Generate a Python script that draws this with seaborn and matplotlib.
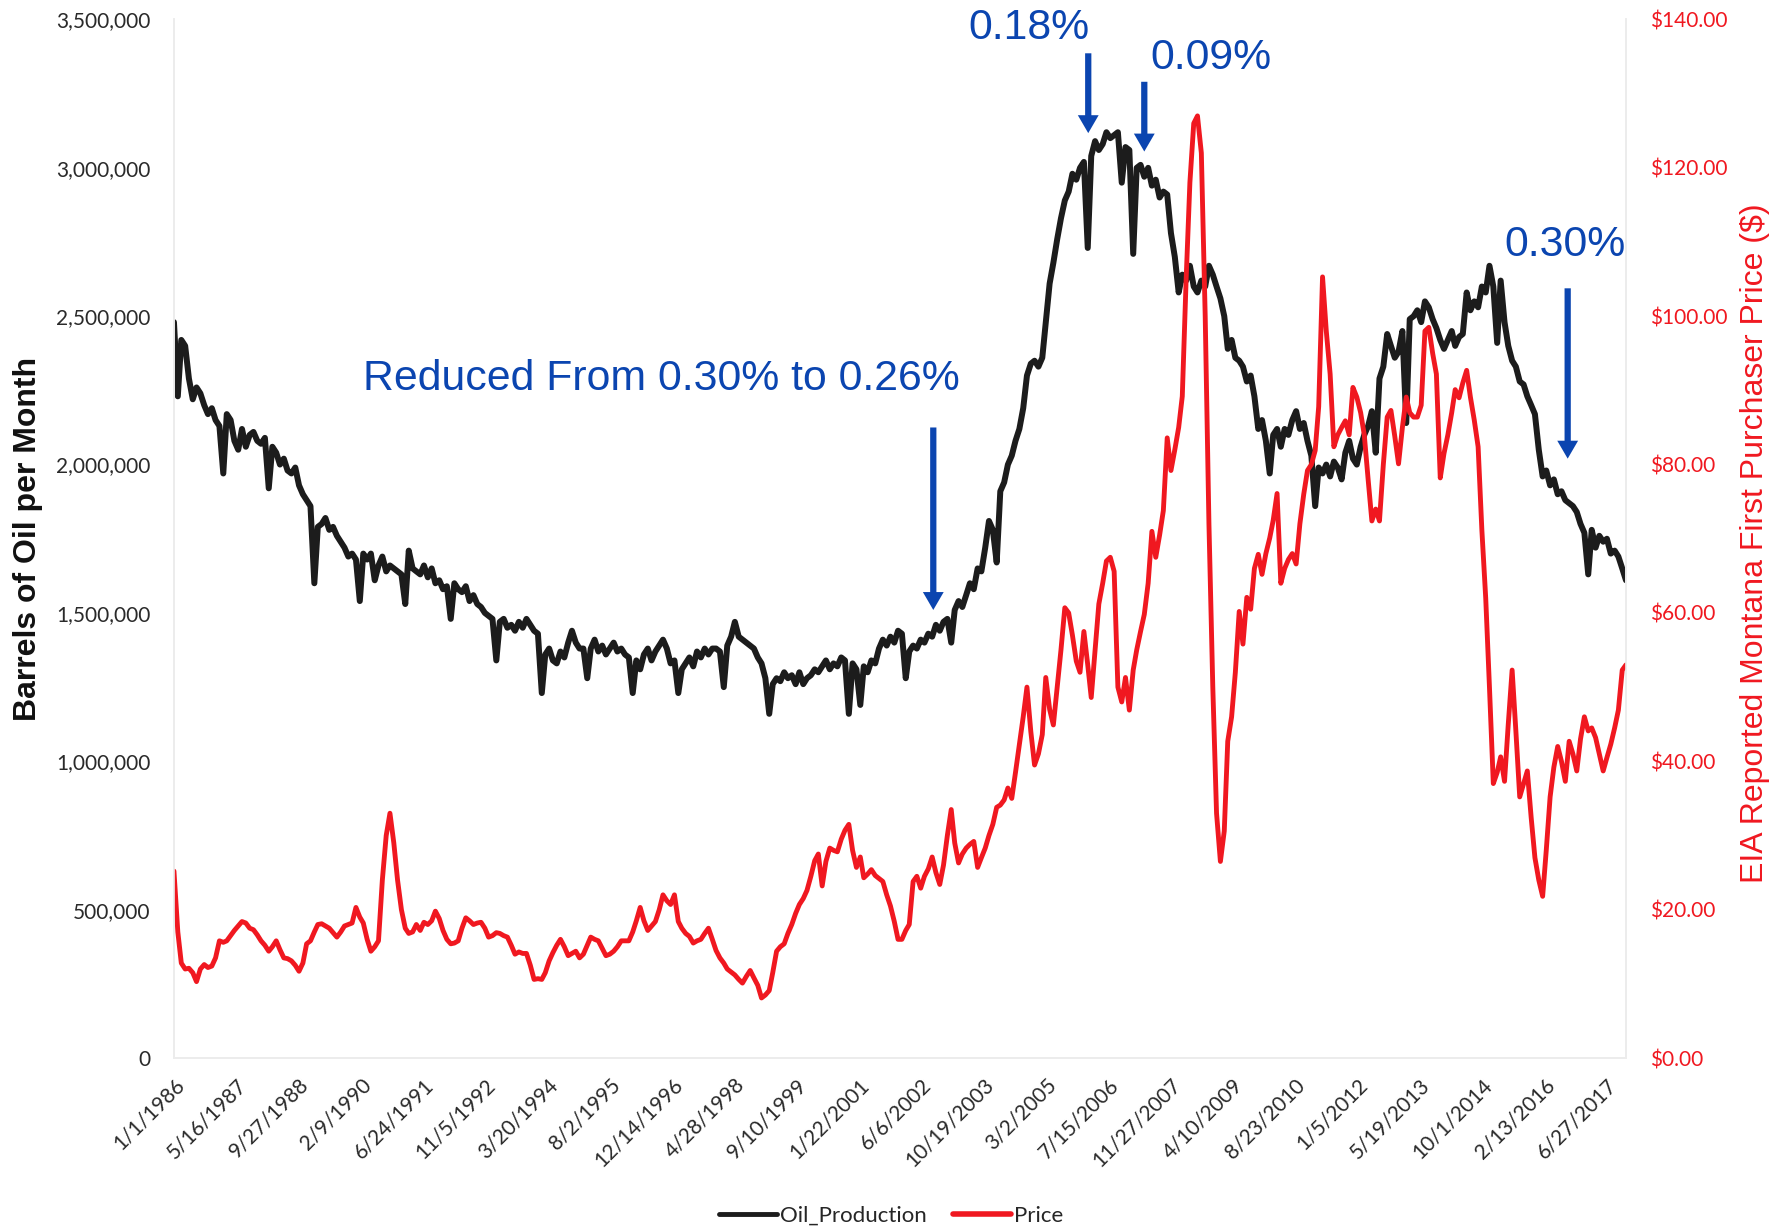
import matplotlib
matplotlib.use('Agg')
import matplotlib.pyplot as plt
import matplotlib.ticker as mticker
from matplotlib.lines import Line2D
import seaborn as sns
import pandas as pd
import numpy as np

# Monthly Montana oil production (thousand barrels), one row per year 1986..2017
production_k = [
    [2480, 2230, 2420, 2400, 2290, 2220, 2260, 2240, 2200, 2170, 2190, 2150],
    [2130, 1970, 2170, 2150, 2080, 2050, 2120, 2060, 2100, 2110, 2080, 2070],
    [2090, 1920, 2060, 2040, 2000, 2020, 1980, 1970, 1990, 1930, 1900, 1880],
    [1860, 1600, 1790, 1800, 1820, 1780, 1790, 1760, 1740, 1720, 1690, 1700],
    [1680, 1540, 1700, 1680, 1700, 1610, 1660, 1690, 1640, 1660, 1650, 1640],
    [1630, 1530, 1710, 1650, 1640, 1630, 1660, 1620, 1650, 1600, 1610, 1580],
    [1590, 1480, 1600, 1580, 1570, 1590, 1540, 1560, 1530, 1520, 1500, 1490],
    [1480, 1340, 1470, 1480, 1450, 1460, 1440, 1470, 1450, 1480, 1460, 1440],
    [1430, 1230, 1360, 1380, 1340, 1330, 1370, 1350, 1400, 1440, 1400, 1380],
    [1380, 1280, 1380, 1410, 1370, 1390, 1360, 1380, 1400, 1370, 1380, 1360],
    [1350, 1230, 1340, 1310, 1360, 1380, 1340, 1370, 1390, 1410, 1380, 1330],
    [1340, 1230, 1310, 1330, 1350, 1320, 1370, 1350, 1380, 1360, 1380, 1380],
    [1370, 1250, 1390, 1420, 1470, 1420, 1410, 1400, 1390, 1380, 1350, 1330],
    [1280, 1160, 1260, 1280, 1270, 1300, 1280, 1290, 1260, 1300, 1260, 1280],
    [1290, 1310, 1300, 1320, 1340, 1310, 1330, 1320, 1350, 1340, 1160, 1330],
    [1310, 1190, 1320, 1300, 1340, 1330, 1380, 1410, 1390, 1420, 1400, 1440],
    [1430, 1280, 1370, 1390, 1380, 1410, 1400, 1430, 1420, 1460, 1440, 1470],
    [1480, 1400, 1510, 1540, 1520, 1560, 1600, 1580, 1650, 1640, 1720, 1810],
    [1780, 1670, 1910, 1940, 2000, 2030, 2080, 2120, 2190, 2300, 2340, 2350],
    [2330, 2360, 2480, 2610, 2680, 2760, 2830, 2890, 2920, 2980, 2960, 3000],
    [3020, 2730, 3040, 3090, 3060, 3080, 3120, 3100, 3110, 3120, 2950, 3070],
    [3060, 2710, 3000, 3010, 2970, 3000, 2940, 2960, 2900, 2920, 2910, 2780],
    [2700, 2580, 2640, 2620, 2670, 2600, 2580, 2620, 2600, 2670, 2640, 2600],
    [2560, 2500, 2390, 2420, 2360, 2350, 2330, 2280, 2300, 2230, 2120, 2150],
    [2080, 1970, 2100, 2120, 2060, 2120, 2100, 2150, 2180, 2120, 2140, 2080],
    [2030, 1860, 1990, 1970, 2000, 1960, 2010, 1990, 1950, 2040, 2080, 2020],
    [2000, 2060, 2100, 2130, 2180, 2040, 2290, 2330, 2440, 2400, 2360, 2380],
    [2450, 2140, 2490, 2500, 2520, 2480, 2550, 2530, 2490, 2460, 2420, 2390],
    [2420, 2450, 2400, 2430, 2440, 2580, 2520, 2550, 2530, 2600, 2580, 2670],
    [2600, 2410, 2620, 2480, 2400, 2350, 2330, 2280, 2270, 2230, 2200, 2170],
    [2050, 1960, 1980, 1930, 1950, 1900, 1910, 1880, 1870, 1860, 1840, 1800],
    [1770, 1630, 1780, 1720, 1760, 1740, 1750, 1700, 1710, 1690, 1650, 1610],
]

# Monthly first purchaser price ($/bbl), one row per year 1986..2017
price_usd = [
    [25.2, 17.0, 12.8, 12.0, 12.1, 11.5, 10.3, 12.0, 12.6, 12.2, 12.4, 13.5],
    [15.8, 15.6, 15.8, 16.5, 17.2, 17.8, 18.4, 18.2, 17.5, 17.3, 16.6, 15.8],
    [15.2, 14.4, 15.0, 15.8, 14.6, 13.5, 13.4, 13.1, 12.5, 11.7, 12.8, 15.4],
    [15.8, 17.0, 18.0, 18.1, 17.8, 17.5, 16.9, 16.3, 17.0, 17.8, 18.0, 18.2],
    [20.3, 19.0, 18.2, 16.0, 14.4, 15.0, 15.8, 24.0, 30.0, 33.0, 29.0, 24.0],
    [20.0, 17.5, 16.8, 17.0, 18.0, 17.2, 18.3, 18.0, 18.5, 19.8, 18.8, 17.2],
    [16.0, 15.4, 15.5, 15.8, 17.5, 18.9, 18.5, 18.0, 18.2, 18.3, 17.5, 16.3],
    [16.5, 16.9, 16.8, 16.5, 16.3, 15.2, 14.0, 14.3, 14.1, 14.1, 12.5, 10.6],
    [10.7, 10.6, 11.5, 13.1, 14.2, 15.2, 16.0, 15.0, 13.8, 14.1, 14.4, 13.5],
    [14.0, 15.2, 16.3, 16.0, 15.8, 14.8, 13.8, 14.0, 14.4, 15.0, 15.8, 15.8],
    [15.8, 17.0, 18.5, 20.3, 18.5, 17.2, 17.8, 18.4, 20.0, 22.0, 21.2, 20.7],
    [22.0, 18.4, 17.5, 16.8, 16.4, 15.5, 15.8, 16.0, 16.8, 17.5, 16.0, 14.5],
    [13.5, 12.8, 12.0, 11.6, 11.2, 10.6, 10.1, 11.0, 11.8, 10.8, 9.8, 8.1],
    [8.5, 9.1, 11.5, 14.4, 15.0, 15.4, 16.8, 18.0, 19.5, 20.7, 21.5, 22.6],
    [24.5, 26.6, 27.5, 23.2, 26.5, 28.3, 28.0, 27.8, 29.5, 30.7, 31.5, 28.0],
    [25.7, 27.1, 24.3, 24.8, 25.4, 24.6, 24.2, 23.8, 22.0, 20.5, 18.4, 16.0],
    [16.0, 17.2, 18.0, 23.8, 24.5, 22.9, 24.5, 25.5, 27.1, 25.0, 23.4, 26.0],
    [30.0, 33.5, 29.0, 26.3, 27.5, 28.3, 28.8, 29.2, 25.7, 27.0, 28.3, 30.0],
    [31.5, 33.8, 34.1, 34.8, 36.4, 35.0, 38.5, 42.3, 46.0, 50.0, 44.0, 39.5],
    [41.0, 43.6, 51.3, 47.0, 44.9, 50.0, 55.0, 60.7, 60.0, 57.0, 53.5, 52.0],
    [57.5, 53.0, 48.6, 55.0, 61.2, 64.0, 67.0, 67.5, 65.6, 50.0, 48.0, 51.3],
    [46.9, 52.3, 55.0, 57.5, 59.8, 64.0, 71.0, 67.5, 70.5, 73.8, 83.6, 79.2],
    [82.0, 85.0, 89.2, 105.0, 118.0, 126.0, 127.0, 122.0, 100.0, 72.0, 50.0, 33.0],
    [26.5, 30.6, 42.7, 46.0, 52.0, 60.2, 55.8, 62.1, 60.5, 66.0, 67.9, 65.2],
    [68.0, 70.1, 72.5, 76.1, 64.0, 66.0, 67.2, 68.0, 66.6, 72.0, 76.0, 79.2],
    [80.0, 81.9, 87.8, 105.3, 98.0, 92.2, 82.4, 84.0, 85.0, 85.9, 84.0, 90.4],
    [89.1, 87.0, 84.0, 78.0, 72.4, 74.0, 72.4, 80.0, 86.4, 87.3, 83.8, 80.1],
    [85.0, 89.1, 87.0, 86.4, 86.4, 88.0, 98.0, 98.5, 95.0, 92.2, 78.2, 81.5],
    [84.0, 87.0, 90.1, 89.0, 91.0, 92.7, 89.1, 86.0, 82.4, 71.2, 62.0, 50.0],
    [37.0, 38.5, 40.6, 37.3, 45.0, 52.3, 44.1, 35.2, 37.0, 38.7, 32.4, 27.0],
    [24.0, 21.8, 28.0, 35.2, 39.2, 42.0, 40.0, 37.3, 42.7, 41.0, 38.7, 43.0],
    [46.0, 44.1, 44.5, 43.2, 41.0, 38.7, 40.5, 42.3, 44.5, 46.9, 52.3, 53.0],
]

tick_labels = ['1/1/1986', '5/16/1987', '9/27/1988', '2/9/1990', '6/24/1991',
               '11/5/1992', '3/20/1994', '8/2/1995', '12/14/1996', '4/28/1998',
               '9/10/1999', '1/22/2001', '6/6/2002', '10/19/2003', '3/2/2005',
               '7/15/2006', '11/27/2007', '4/10/2009', '8/23/2010', '1/5/2012',
               '5/19/2013', '10/1/2014', '2/13/2016', '6/27/2017']

BLACK = '#1c1c1c'
RED = '#f01820'
BLUE = '#0b45b0'
TICK_FONT = ['Lato', 'DejaVu Sans']
ARIAL = ['Liberation Sans', 'DejaVu Sans']

months = pd.date_range('1986-01-01', periods=12 * len(production_k), freq='MS')
df = pd.DataFrame({
    'date': months,
    'Oil_Production': np.concatenate(production_k) * 1000,
    'Price': np.concatenate(price_usd),
})

sns.set_style('white')
plt.rcParams['font.family'] = TICK_FONT

fig = plt.figure(figsize=(17.86, 12.32), dpi=100)
ax = fig.add_axes([0.0974, 0.1412, 0.8130, 0.8430])
ax2 = ax.twinx()

sns.lineplot(data=df, x='date', y='Oil_Production', ax=ax, color=BLACK, lw=4.3,
             legend=False, solid_joinstyle='round')
sns.lineplot(data=df, x='date', y='Price', ax=ax2, color=RED, lw=3.5,
             legend=False, solid_joinstyle='round')

ax.set_xlim(months[0], months[-1])
ax.set_ylim(0, 3500000)
ax2.set_ylim(0, 140)
ax.yaxis.set_major_locator(mticker.MultipleLocator(500000))
ax2.yaxis.set_major_locator(mticker.MultipleLocator(20))
ax.yaxis.set_major_formatter(mticker.FuncFormatter(lambda v, p: f'{v:,.0f}'))
ax2.yaxis.set_major_formatter(mticker.FuncFormatter(lambda v, p: f'${v:,.2f}'))

tick_dates = pd.to_datetime(tick_labels, format='%m/%d/%Y')
ax.set_xticks(tick_dates)
ax.set_xticklabels(tick_labels, rotation=45, ha='right', rotation_mode='anchor')

ax.tick_params(axis='x', length=0, pad=12, labelsize=15, labelcolor='#2a2a2a')
ax.tick_params(axis='y', length=0, pad=17, labelsize=15, labelcolor='#2a2a2a')
ax2.tick_params(axis='y', length=0, pad=17, labelsize=15, labelcolor=RED)

for a in (ax, ax2):
    for side, sp in a.spines.items():
        sp.set_color('#ececec')
        sp.set_linewidth(1.2)
        sp.set_visible(side != 'top')

ax.set_xlabel('')
ax.set_ylabel('Barrels of Oil per Month', fontsize=23, fontweight='bold',
              family=ARIAL, color='#111111', va='center')
ax.yaxis.set_label_coords(-0.1005, 0.5)
ax2.set_ylabel('EIA Reported Montana First Purchaser Price ($)', fontsize=23,
               family=ARIAL, color=RED, rotation=90, va='center')
ax2.yaxis.set_label_coords(1.089, 0.496)

# annotations about tax rate changes
arrow_style = dict(arrowstyle='simple,head_length=0.43,head_width=0.5,tail_width=0.15',
                   mutation_scale=30, color=BLUE, lw=0, shrinkA=0, shrinkB=0)
notes = [
    ('Reduced From 0.30% to 0.26%', '1996-09-15', 2290000, '2002-09-10', 2125000, 1510000),
    ('0.18%', '2004-10-15', 3470000, '2006-02-05', 3386000, 3117000),
    ('0.09%', '2008-10-15', 3370000, '2007-05-01', 3290000, 3055000),
    ('0.30%', '2016-08-01', 2740000, '2016-08-20', 2594000, 2020000),
]
for text, tx, ty, axx, y0, y1 in notes:
    ax.text(pd.Timestamp(tx), ty, text, fontsize=30.8, color=BLUE, family=ARIAL,
            ha='center', va='center', clip_on=False, zorder=5)
    ax.annotate('', xy=(pd.Timestamp(axx), y1), xytext=(pd.Timestamp(axx), y0),
                arrowprops=arrow_style, zorder=5)

handles = [Line2D([], [], color=BLACK, lw=3.5), Line2D([], [], color=RED, lw=4)]
fig.legend(handles, ['Oil_Production', 'Price'], loc='center', bbox_to_anchor=(0.499, 0.013),
           ncol=2, frameon=False, fontsize=16, handlelength=2.6, handletextpad=0.15,
           columnspacing=1.2)

fig.savefig('out.png', dpi=100, facecolor='white')
